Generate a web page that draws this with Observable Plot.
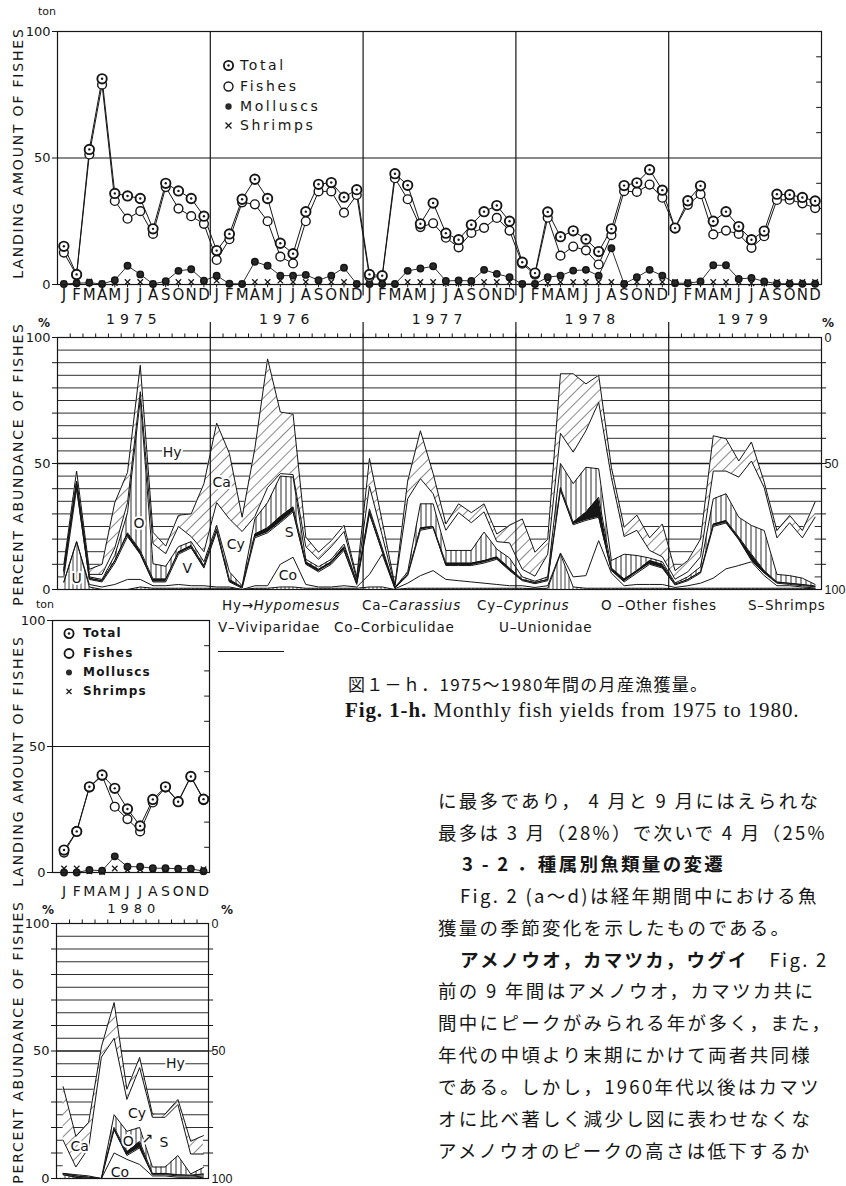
<!DOCTYPE html>
<html>
<head>
<meta charset="utf-8">
<script src="https://cdn.jsdelivr.net/npm/d3@7"></script>
<script src="https://cdn.jsdelivr.net/npm/@observablehq/plot@0.6"></script>
<style>
  body { margin: 0; background: #fff; }
  #page { position: relative; width: 846px; height: 1186px; overflow: hidden; background: #fff; color: #161616; font-family: "DejaVu Sans", sans-serif; }
  .abs { position: absolute; white-space: nowrap; }
  .vt { position: absolute; white-space: nowrap; transform: translate(-50%, -50%) rotate(-90deg); font-size: 14px; letter-spacing: 1.8px; }
  .plot { position: absolute; }
  .legend-row { position: absolute; white-space: nowrap; display: flex; align-items: center; }
  .legend-row svg { margin-right: 5px; }
  .sp { font-size: 13.5px; letter-spacing: 0.8px; }
  .jp { font-family: "Noto Sans CJK JP", sans-serif; font-size: 18.5px; letter-spacing: 2.3px; line-height: 24px; }
</style>
</head>
<body>
<svg width="0" height="0" style="position:absolute">
  <defs>
    <pattern id="hatchDiag" patternUnits="userSpaceOnUse" width="8" height="8" patternTransform="rotate(45)">
      <rect width="8" height="8" fill="#fff"/>
      <line x1="0" y1="0" x2="0" y2="8" stroke="#161616" stroke-width="1"/>
    </pattern>
    <pattern id="hatchVert" patternUnits="userSpaceOnUse" width="5" height="5">
      <rect width="5" height="5" fill="#fff"/>
      <line x1="1" y1="0" x2="1" y2="5" stroke="#161616" stroke-width="0.9"/>
    </pattern>
    <pattern id="hatchU" patternUnits="userSpaceOnUse" width="4" height="4">
      <rect width="4" height="4" fill="#fff"/>
      <line x1="1" y1="0" x2="1" y2="4" stroke="#161616" stroke-width="0.8"/>
    </pattern>
  </defs>
</svg>
<div id="page"></div>
<script>
// ---------- landing amounts (ton), Jan 1975 .. Dec 1979 ----------
const monthLetters = ["J","F","M","A","M","J","J","A","S","O","N","D"];
const years = ["1975","1976","1977","1978","1979"];

const total = [
  15.1, 4.0, 53.4, 81.3, 36.0, 35.0, 34.0, 22.0, 40.0, 37.0, 34.0, 27.0,
  13.4, 20.0, 33.7, 41.6, 34.0, 16.3, 12.2, 28.8, 39.6, 40.3, 34.5, 37.5,
  4.0, 3.5, 43.8, 39.2, 24.0, 32.2, 20.3, 17.7, 23.6, 28.8, 31.2, 25.0,
  8.8, 4.5, 28.7, 18.9, 21.2, 17.9, 13.0, 22.0, 39.1, 40.2, 45.4, 37.3,
  22.3, 33.1, 39.0, 25.0, 28.8, 22.9, 17.7, 21.1, 35.7, 35.5, 34.4, 33.0
];
const fishes = [
  12.6, 3.7, 51.4, 79.0, 33.0, 26.0, 29.0, 20.0, 38.5, 30.0, 27.0, 24.0,
  9.7, 17.9, 32.5, 31.7, 25.0, 11.0, 8.3, 25.0, 36.8, 36.8, 28.4, 35.4,
  3.0, 3.0, 42.0, 33.7, 22.7, 24.2, 18.5, 14.7, 20.4, 22.4, 26.3, 21.3,
  8.2, 3.9, 26.4, 11.4, 15.0, 13.5, 7.9, 19.5, 36.9, 36.6, 39.5, 34.3,
  22.3, 31.5, 35.7, 19.8, 21.3, 20.0, 14.5, 19.1, 33.4, 33.5, 32.1, 30.2
];
const molluscs = [
  0.2, 0.5, 0.7, 0.2, 1.7, 7.4, 4.0, 0.2, 1.3, 5.4, 6.0, 1.5,
  3.5, 0.3, 0.2, 9.0, 7.4, 3.5, 3.5, 3.8, 1.7, 3.5, 6.6, 0.2,
  0.2, 0.2, 0.2, 5.4, 6.3, 7.2, 1.4, 1.6, 1.4, 5.8, 4.2, 2.9,
  0.2, 0.2, 2.9, 3.5, 5.5, 5.8, 3.5, 14.3, 0.2, 2.9, 5.8, 3.5,
  0.5, 0.5, 1.2, 7.6, 7.6, 2.2, 2.6, 1.2, 0.3, 0.3, 0.3, 0.3
];
const shrimps = [
  0.3, 0.8, 1.2, 0.4, 0.6, 1.0, 1.0, 0.3, 0.6, 1.0, 1.0, 1.0,
  1.5, 0.3, 0.3, 1.0, 1.0, 1.5, 1.0, 1.0, 1.0, 1.0, 1.0, 0.3,
  1.0, 0.6, 0.2, 1.0, 1.0, 1.0, 0.5, 0.5, 0.5, 1.0, 1.0, 1.0,
  0.3, 0.3, 0.5, 1.0, 1.0, 1.0, 1.0, 1.0, 0.5, 1.0, 1.0, 1.0,
  1.0, 1.0, 1.0, 1.0, 1.0, 1.0, 0.5, 0.5, 1.0, 1.0, 1.0, 1.0
];

// ---------- landing amounts (ton), 1980 ----------
const total80    = [8.9, 16.3, 34.0, 38.7, 33.4, 25.2, 18.5, 29.0, 34.0, 28.1, 38.1, 29.1];
const fishes80   = [7.9, 16.3, 33.8, 38.4, 26.1, 21.2, 16.3, 27.8, 33.8, 28.1, 38.1, 28.7];
const molluscs80 = [0.0, 0.0, 1.0, 0.7, 6.4, 2.3, 2.3, 1.7, 1.7, 1.5, 1.5, 0.5];
const shrimps80  = [1.6, 1.6, 0.5, 0.2, 1.6, 1.0, 1.2, 1.3, 1.3, 1.3, 1.3, 1.3];

// ---------- percent composition, stacked bottom -> top; Hy fills the rest to 100 ----------
const layerNames = ["U", "Co", "V", "S", "O", "Cy", "Ca"];
const pctU  = [3,19,1,0,0,0,1,0.5,0.5,0.5,0.5,0.5, 0.5,0.5,0,0.5,0.5,1,1,0.5,0.5,0.5,0.5,0.5, 1,1,0,0.5,0.5,0.5,0.5,0.5,0.5,0.5,0.5,0.5, 0.5,0.3,0.5,14,1,0.5,0.5,0.5,0.5,0.5,0.5,0.5, 0.3,0.5,0.5,0.5,0.5,0.5,0.5,0.5,0.5,0.5,0.5,0.3];
const pctCo = [0,0,1,1,2,4,3,1,1,1.5,1,1, 0.5,0.5,0,1,1,9,11.8,1.5,0.5,0.5,1,0.5, 5,13,0.3,2,5,7,3.5,3,2.5,2,1.5,1, 1,0.5,1,0.5,4,5,18.9,6,1,1.5,1.5,1.5, 0.5,1,2,4,7.7,9,10.5,5,1,1,0.5,0.3];
const pctV  = [2,21,2,2,8.5,17,10,1.5,1.5,12,15,7, 22,2,0.5,19,21,16.5,18,8,6,9,14,1, 24,1,0.3,3,18,17,5.5,6,6.5,8,10,6, 2,1.5,2,25,20.7,21.9,9.3,1,1.5,4.5,8,6.5, 1,2,4,20.5,18.2,10.3,0.5,1,1,0.5,0.5,0.5];
const pctS  = [2.5,2.5,0.5,0.5,1,1.5,1.5,1.2,1.2,1,1,1, 1,1,0.5,1.5,2,2.5,2,1,1,1,1.5,0.5, 1,0.5,0.2,0.5,1,0.5,1,1,1,1,1,1, 0.5,0.5,0.5,1,1,3.3,7.9,1,1.2,1,1.5,1.5, 0.3,0.5,0.5,1,1,1,2.5,1,0.5,0.5,0.5,0.3];
const pctO  = [0,0,0.5,0.5,2,8,60,6,5,2,1.5,1.5, 1.5,3,0.5,6,10,16,11.8,1,1,1,1,0.5, 1,1,0,1,9.5,9,5,5,5,11.3,3,4, 1,0.5,1,9.5,15.3,17.8,11.3,3,9.8,6,1,1, 0.5,1,2,10,10.6,7.9,11.4,15.9,3,3,2.5,0.6];
const pctCy = [1,0.5,1,2,3,4,3,8,5,8,2,4, 9,21,21.5,1,6,1,1,5,3,5,5,1, 9,5,0.5,29,10,4,8,15,11,8,3,6, 3,2,9,12,12.5,14.5,26.4,33,7,10,3,2, 1.5,2,4,11,9,15.9,25.6,17,14.5,21,16,26.7];
const pctCa = [1.5,4,2,4,18,12,10.5,4.5,3,4.5,9,27, 31.5,26,5.7,27,51,24.4,24,3.8,2.8,2.4,2.5,1, 11,5.5,0.5,7,19,8,2.5,3.5,4,3.2,3,7, 20,9.5,6,23.6,31.1,18.6,10.7,4,3.7,6,5,13, 3.4,4.5,7,14,12.8,6.4,7.5,2.2,2.9,2.9,2.9,6];

const pctU80  = [1.5, 0.5, 0, 0, 0, 0, 0, 0, 0, 0, 0, 0.5];
const pctCo80 = [0, 0, 0, 0, 10, 7.5, 5.5, 1, 1, 0.5, 0.5, 0.5];
const pctV80  = [0.5, 0.5, 0.5, 0, 9, 1.5, 6.5, 0.5, 0.5, 0.5, 0.5, 0.5];
const pctS80  = [0, 0, 0, 0, 1, 1.5, 2.5, 0.5, 0.5, 0.5, 0.3, 0.3];
const pctO80  = [0, 0.5, 0.5, 0, 5, 8, 5.5, 2.5, 2.5, 7.5, 0.5, 2.5];
const pctCy80 = [13, 3, 11, 47.6, 30, 12.5, 23.5, 19.5, 19.5, 20, 7.8, 5.3];
const pctCa80 = [21, 12, 10, 4, 14, 4, 4, 1.3, 1.3, 2, 5, 7.2];

// species tags placed inside the composition panels
const tagText  = ["Hy", "Ca", "O", "V", "U", "Cy", "S", "Co"];
const tagMonth = [8.5, 12.4, 5.9, 9.7, 1.0, 13.5, 17.7, 17.6];
const tagPct   = [54.5, 42.6, 26, 8.2, 4.2, 18, 22.7, 5.6];
const tagText80  = ["Hy", "Cy", "Ca", "O", "↗", "S", "Co"];
const tagMonth80 = [8.8, 5.8, 1.3, 5.1, 6.6, 7.9, 4.45];
const tagPct80   = [45, 25.3, 12.5, 14.5, 15.8, 14.2, 2.4];

// ---------- build tables ----------
const ink = "#161616";
const layerFills = ["url(#hatchU)", "#fff", "#fff", ink, "url(#hatchVert)", "#fff", "url(#hatchDiag)"];
const layerArrays = [pctU, pctCo, pctV, pctS, pctO, pctCy, pctCa];
const layerArrays80 = [pctU80, pctCo80, pctV80, pctS80, pctO80, pctCy80, pctCa80];

const landing = total.map((t, i) => ({m: i, total: t, fishes: fishes[i], molluscs: molluscs[i], shrimps: shrimps[i]}));
const landing80 = total80.map((t, i) => ({m: i, total: t, fishes: fishes80[i], molluscs: molluscs80[i], shrimps: shrimps80[i]}));
const pct = layerNames.flatMap((name, k) => layerArrays[k].map((v, i) => ({m: i, layer: name, v})));
const pct80 = layerNames.flatMap((name, k) => layerArrays80[k].map((v, i) => ({m: i, layer: name, v})));
const monthRows = d3.range(60).map(i => ({m: i, letter: monthLetters[i % 12]}));
const monthRows80 = monthLetters.map((letter, i) => ({m: i, letter}));
const yearRows = years.map((label, k) => ({mid: k * 12 + 5.5, label}));
const dividers = [11.5, 23.5, 35.5, 47.5];
const tags = tagText.map((t, i) => ({t, m: tagMonth[i], v: tagPct[i]}));
const tags80 = tagText80.map((t, i) => ({t, m: tagMonth80[i], v: tagPct80[i]}));
const tens = d3.range(10, 100, 10);
const fives = d3.range(5, 100, 5).filter(d => d !== 50);

const baseStyle = {background: "transparent", fontFamily: "DejaVu Sans, sans-serif", fontSize: "13px", color: ink, overflow: "visible"};

function landingMarks(rows, letters, xMax, letterDy, letterSize, withBottomTicks) {
  return [
    Plot.ruleY([50], {stroke: ink, strokeWidth: 1.2}),
    Plot.ruleY(tens.filter(d => d !== 50), {x1: xMax - 0.38, x2: xMax, stroke: ink, strokeWidth: 1}),
    withBottomTicks ? Plot.ruleX(rows, {x: "m", y1: 0, y2: -1.3, stroke: ink}) : null,
    Plot.lineY(rows, {x: "m", y: "fishes", stroke: ink, strokeWidth: 1}),
    Plot.lineY(rows, {x: "m", y: "total", stroke: ink, strokeWidth: 1}),
    Plot.lineY(rows, {x: "m", y: "molluscs", stroke: ink, strokeWidth: 0.9}),
    Plot.dot(rows, {x: "m", y: "shrimps", symbol: "times", r: 2.6, stroke: ink, strokeWidth: 1.2}),
    Plot.dot(rows, {x: "m", y: "molluscs", r: 3.2, fill: "#2a2a2a", stroke: ink}),
    Plot.dot(rows, {x: "m", y: "fishes", r: 4.4, fill: "#fff", stroke: ink, strokeWidth: 1.4}),
    Plot.dot(rows, {x: "m", y: "total", r: 4.7, fill: "#fff", stroke: ink, strokeWidth: 1.9}),
    Plot.dot(rows, {x: "m", y: "total", r: 1.2, fill: ink}),
    Plot.text(letters, {x: "m", y: 0, text: "letter", dy: letterDy, fontSize: letterSize}),
    Plot.frame({stroke: ink, strokeWidth: 1.2})
  ].filter(Boolean);
}

function pctMarks(rows, tagRows, xMin, xMax, edges) {
  return [
    Plot.ruleY(fives, {stroke: ink, strokeWidth: 0.9}),
    Plot.ruleY([50], {stroke: ink, strokeWidth: 1.5}),
    Plot.areaY(rows, {x: "m", y: "v", z: "layer", fill: "layer", order: layerNames}),
    Plot.lineY(rows, Plot.stackY2({x: "m", y: "v", z: "layer", order: layerNames, stroke: ink, strokeWidth: 1})),
    Plot.ruleX(edges, {y1: 100, y2: 101.4, stroke: ink}),
    Plot.ruleY(tens, {x1: xMax, x2: xMax + 0.4, stroke: ink}),
    Plot.text([0, 50, 100], {x: xMax, y: d => d, text: d => String(100 - d), dx: 3, textAnchor: "start", fontSize: 12.5, fontFamily: "Liberation Sans, sans-serif"}),
    Plot.text(tagRows, {x: "m", y: "v", text: "t", fontSize: 14, stroke: "#fff", strokeWidth: 4, fill: ink}),
    Plot.frame({stroke: ink, strokeWidth: 1.2})
  ];
}

// ---------- landing 1975-1979 ----------
const plotA = Plot.plot({
  width: 846, height: 330,
  marginLeft: 57, marginRight: 25, marginTop: 31, marginBottom: 46,
  x: {domain: [-0.5, 59.5], axis: null},
  y: {domain: [0, 100], ticks: [0, 50, 100], tickSize: 5, tickPadding: 2, label: null},
  style: baseStyle,
  marks: [
    Plot.ruleX(dividers, {y1: -4.5, y2: 100, stroke: ink, strokeWidth: 1.2}),
    ...landingMarks(landing, monthRows, 59.5, 11, 15, true),
    Plot.text(yearRows, {x: "mid", y: 0, text: "label", dy: 35, fontSize: 14, ariaDescription: "years"})
  ]
});

// ---------- composition 1975-1979 ----------
const plotB = Plot.plot({
  width: 846, height: 290,
  marginLeft: 57, marginRight: 25, marginTop: 27, marginBottom: 11,
  x: {domain: [-0.5, 59.5], axis: null},
  y: {domain: [0, 100], ticks: d3.range(0, 101, 10), tickSize: 5, tickPadding: 2, tickFormat: d => d % 50 === 0 ? String(d) : "", label: null},
  color: {type: "ordinal", domain: layerNames, range: layerFills},
  style: baseStyle,
  marks: [
    ...pctMarks(pct, tags, -0.5, 59.5, d3.range(0.5, 59, 1)),
    Plot.ruleX(dividers, {y1: 0, y2: 106, stroke: ink, strokeWidth: 1.2})
  ]
});

// ---------- landing 1980 ----------
const plotC = Plot.plot({
  width: 250, height: 312,
  marginLeft: 52, marginRight: 41, marginTop: 20, marginBottom: 40,
  x: {domain: [-0.91, 11.47], axis: null},
  y: {domain: [0, 100], ticks: [0, 50, 100], tickSize: 5, tickPadding: 2, label: null},
  style: baseStyle,
  marks: [
    ...landingMarks(landing80, monthRows80, 11.47, 19, 14, false),
    Plot.text(["1980"], {x: 5.5, y: 0, text: d => d, dy: 36, fontSize: 13, ariaDescription: "years"})
  ]
});

// ---------- composition 1980 ----------
const plotD = Plot.plot({
  width: 250, height: 281,
  marginLeft: 56, marginRight: 42, marginTop: 18, marginBottom: 8,
  x: {domain: [-0.52, 11.4], axis: null},
  y: {domain: [0, 100], ticks: d3.range(0, 101, 10), tickSize: 5, tickPadding: 2, tickFormat: d => d % 50 === 0 ? String(d) : "", label: null},
  color: {type: "ordinal", domain: layerNames, range: layerFills},
  style: baseStyle,
  marks: pctMarks(pct80, tags80, -0.52, 11.4, d3.range(0.5, 11, 1))
});

const page = document.getElementById("page");
function place(node, left, top) {
  node.classList.add("plot");
  node.style.left = left + "px";
  node.style.top = top + "px";
  page.appendChild(node);
}
place(plotA, 0, 0);
place(plotB, 0, 310);
place(plotC, 0, 600);
place(plotD, 0, 905);

d3.selectAll('g[aria-description="years"] text').attr("letter-spacing", "5px");

// ---------- text around the plots ----------
const html = `
  <div class="vt" style="left:18px;top:153px;">LANDING AMOUNT OF FISHES</div>
  <div class="vt" style="left:18px;top:464px;">PERCENT ABUNDANCE OF FISHES</div>
  <div class="vt" style="left:18px;top:761px;">LANDING AMOUNT OF FISHES</div>
  <div class="vt" style="left:18px;top:1042px;">PERCENT ABUNDANCE OF FISHES</div>

  <div class="abs" style="left:38px;top:5px;font-size:11px;">ton</div>
  <div class="abs" style="left:38px;top:316px;font-size:12px;font-weight:bold;">%</div>
  <div class="abs" style="left:822px;top:316px;font-size:12px;font-weight:bold;">%</div>
  <div class="abs" style="left:36px;top:598px;font-size:11px;">ton</div>
  <div class="abs" style="left:42px;top:903px;font-size:12px;font-weight:bold;">%</div>
  <div class="abs" style="left:221px;top:903px;font-size:12px;font-weight:bold;">%</div>

  <div class="legend-row" style="left:222px;top:57px;font-size:14px;letter-spacing:2.6px;">
    <svg width="13" height="13"><circle cx="6.5" cy="6.5" r="4.6" fill="#fff" stroke="${ink}" stroke-width="1.8"/><circle cx="6.5" cy="6.5" r="1.2" fill="${ink}"/></svg>Total</div>
  <div class="legend-row" style="left:222px;top:78px;font-size:14px;letter-spacing:2.6px;">
    <svg width="13" height="13"><circle cx="6.5" cy="6.5" r="4.5" fill="#fff" stroke="${ink}" stroke-width="1.4"/></svg>Fishes</div>
  <div class="legend-row" style="left:222px;top:98px;font-size:14px;letter-spacing:2.6px;">
    <svg width="13" height="13"><circle cx="6.5" cy="6.5" r="3.2" fill="#2a2a2a"/></svg>Molluscs</div>
  <div class="legend-row" style="left:222px;top:117px;font-size:14px;letter-spacing:2.6px;">
    <svg width="13" height="13"><path d="M3.5,3.5L9.5,9.5M9.5,3.5L3.5,9.5" stroke="${ink}" stroke-width="1.3"/></svg>Shrimps</div>

  <div class="legend-row" style="left:62px;top:626px;font-size:12px;font-weight:bold;letter-spacing:1.2px;">
    <svg width="16" height="13"><circle cx="7" cy="6.5" r="4.6" fill="#fff" stroke="${ink}" stroke-width="1.8"/><circle cx="7" cy="6.5" r="1.2" fill="${ink}"/></svg>Total</div>
  <div class="legend-row" style="left:62px;top:646px;font-size:12px;font-weight:bold;letter-spacing:1.2px;">
    <svg width="16" height="13"><circle cx="7" cy="6.5" r="4.5" fill="#fff" stroke="${ink}" stroke-width="1.8"/></svg>Fishes</div>
  <div class="legend-row" style="left:62px;top:665px;font-size:12px;font-weight:bold;letter-spacing:1.2px;">
    <svg width="16" height="13"><circle cx="7" cy="6.5" r="3" fill="#2a2a2a"/></svg>Molluscs</div>
  <div class="legend-row" style="left:62px;top:684px;font-size:12px;font-weight:bold;letter-spacing:1.2px;">
    <svg width="16" height="13"><path d="M4.5,4L9.5,9M9.5,4L4.5,9" stroke="${ink}" stroke-width="1.2"/></svg>Shrimps</div>

  <div class="abs sp" style="left:222px;top:597px;">Hy→<i>Hypomesus</i></div>
  <div class="abs sp" style="left:362px;top:597px;">Ca–<i>Carassius</i></div>
  <div class="abs sp" style="left:477px;top:597px;">Cy–<i>Cyprinus</i></div>
  <div class="abs sp" style="left:601px;top:597px;">O –Other fishes</div>
  <div class="abs sp" style="left:748px;top:597px;">S–Shrimps</div>
  <div class="abs sp" style="left:218px;top:619px;">V–Viviparidae</div>
  <div class="abs sp" style="left:334px;top:619px;">Co–Corbiculidae</div>
  <div class="abs sp" style="left:499px;top:619px;">U–Unionidae</div>
  <div class="abs" style="left:218px;top:651px;width:66px;border-top:1.2px solid ${ink};"></div>

  <div class="abs" style="left:348px;top:671px;font-family:'Noto Sans CJK JP',sans-serif;font-size:17px;letter-spacing:1.3px;">図１－ｈ．1975～1980年間の月産漁獲量。</div>
  <div class="abs" style="left:345px;top:698px;font-family:'Liberation Serif',serif;font-size:21px;letter-spacing:0.9px;"><b>Fig. 1-h.</b> Monthly fish yields from 1975 to 1980.</div>

  <div class="abs jp" style="left:438px;top:788px;">に最多であり， 4 月と 9 月にはえられな</div>
  <div class="abs jp" style="left:438px;top:820px;">最多は 3 月（28%）で次いで 4 月（25%</div>
  <div class="abs jp" style="left:462px;top:851px;font-weight:bold;">3 - 2 ．種属別魚類量の変遷</div>
  <div class="abs jp" style="left:460px;top:883px;">Fig. 2 (a～d)は経年期間中における魚</div>
  <div class="abs jp" style="left:438px;top:915px;">獲量の季節変化を示したものである。</div>
  <div class="abs jp" style="left:460px;top:947px;"><b>アメノウオ，カマツカ，ウグイ</b>　Fig. 2</div>
  <div class="abs jp" style="left:438px;top:978px;">前の 9 年間はアメノウオ，カマツカ共に</div>
  <div class="abs jp" style="left:438px;top:1010px;">間中にピークがみられる年が多く，また，</div>
  <div class="abs jp" style="left:438px;top:1042px;">年代の中頃より末期にかけて両者共同様</div>
  <div class="abs jp" style="left:438px;top:1074px;">である。しかし，1960年代以後はカマツ</div>
  <div class="abs jp" style="left:438px;top:1106px;">オに比べ著しく減少し図に表わせなくな</div>
  <div class="abs jp" style="left:438px;top:1138px;">アメノウオのピークの高さは低下するか</div>
`;
page.insertAdjacentHTML("beforeend", html);
</script>
</body>
</html>
